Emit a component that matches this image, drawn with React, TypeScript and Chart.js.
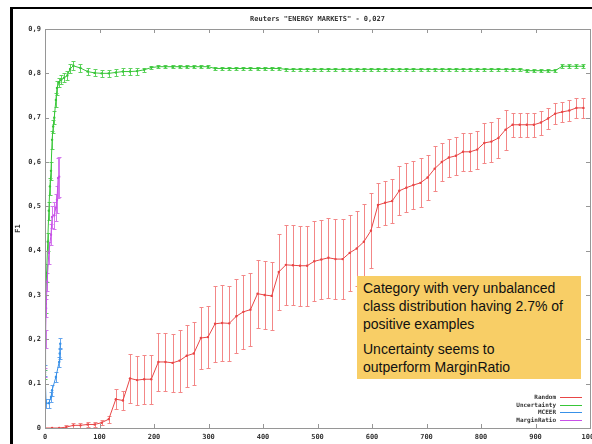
import React, { useEffect, useRef } from 'react';
import { Chart, registerables } from 'chart.js';

Chart.register(...registerables);

const TITLE = 'Reuters "ENERGY MARKETS" - 0,027';
const Y_LABEL = 'F1';
const SERIES_NAMES = ['Random', 'Uncertainty', 'MCEER', 'MarginRatio'];

const X_TICK_VALUES = [0, 100, 200, 300, 400, 500, 600, 700, 800, 900, 1000];
const X_TICK_LABELS = ['0', '100', '200', '300', '400', '500', '600', '700', '800', '900', '1000'];
const Y_TICK_VALUES = [0, 0.1, 0.2, 0.3, 0.4, 0.5, 0.6, 0.7, 0.8, 0.9];
const Y_TICK_LABELS = ['0', '0,1', '0,2', '0,3', '0,4', '0,5', '0,6', '0,7', '0,8', '0,9'];

// Random
const randomX = [0, 13, 26, 39, 52, 65, 78, 91, 104, 117, 130, 143, 156, 169, 182, 195, 208, 221, 234, 247, 260, 273, 286, 299, 312, 325, 338, 351, 364, 377, 390, 403, 416, 429, 442, 455, 468, 481, 494, 507, 520, 533, 546, 559, 572, 585, 598, 611, 624, 637, 650, 663, 676, 689, 702, 715, 728, 741, 754, 767, 780, 793, 806, 819, 832, 845, 858, 871, 884, 897, 910, 923, 936, 949, 962, 975, 988];
const randomY = [0, 0, 0, 0.002, 0.006, 0.006, 0.008, 0.008, 0.012, 0.02, 0.065, 0.062, 0.112, 0.108, 0.11, 0.11, 0.149, 0.149, 0.147, 0.152, 0.163, 0.168, 0.203, 0.205, 0.235, 0.237, 0.236, 0.252, 0.262, 0.267, 0.303, 0.3, 0.298, 0.352, 0.368, 0.367, 0.366, 0.366, 0.376, 0.38, 0.384, 0.381, 0.381, 0.395, 0.405, 0.42, 0.445, 0.503, 0.508, 0.512, 0.535, 0.542, 0.548, 0.553, 0.565, 0.585, 0.6, 0.61, 0.614, 0.623, 0.623, 0.628, 0.643, 0.646, 0.654, 0.673, 0.684, 0.684, 0.684, 0.684, 0.689, 0.698, 0.709, 0.713, 0.716, 0.722, 0.722];
const randomErr = [0, 0, 0, 0.005, 0.005, 0.005, 0.005, 0.005, 0.005, 0.008, 0.022, 0.022, 0.055, 0.055, 0.055, 0.055, 0.065, 0.065, 0.065, 0.07, 0.07, 0.07, 0.07, 0.07, 0.085, 0.085, 0.085, 0.083, 0.083, 0.083, 0.077, 0.077, 0.077, 0.085, 0.09, 0.09, 0.09, 0.09, 0.09, 0.09, 0.09, 0.09, 0.09, 0.085, 0.085, 0.085, 0.085, 0.05, 0.05, 0.05, 0.055, 0.055, 0.055, 0.055, 0.05, 0.05, 0.043, 0.043, 0.043, 0.043, 0.043, 0.043, 0.045, 0.045, 0.045, 0.045, 0.027, 0.027, 0.027, 0.027, 0.027, 0.023, 0.023, 0.023, 0.023, 0.023, 0.023];

// Uncertainty
const uncertaintyX = [0, 1, 3, 5, 7, 9, 11, 13, 15, 17, 20, 22, 26, 30, 35, 41, 46, 52, 65, 78, 91, 104, 117, 130, 143, 156, 169, 182, 195, 208, 221, 234, 247, 260, 273, 286, 299, 312, 325, 338, 351, 364, 377, 390, 403, 416, 429, 442, 455, 468, 481, 494, 507, 520, 533, 546, 559, 572, 585, 598, 611, 624, 637, 650, 663, 676, 689, 702, 715, 728, 741, 754, 767, 780, 793, 806, 819, 832, 845, 858, 871, 884, 897, 910, 923, 936, 949, 962, 975, 988];
const uncertaintyY = [0.12, 0.28, 0.35, 0.42, 0.49, 0.545, 0.58, 0.65, 0.68, 0.7, 0.74, 0.767, 0.78, 0.786, 0.79, 0.795, 0.81, 0.817, 0.812, 0.804, 0.801, 0.8, 0.8, 0.802, 0.804, 0.804, 0.805, 0.808, 0.813, 0.815, 0.815, 0.815, 0.815, 0.815, 0.815, 0.815, 0.815, 0.811, 0.811, 0.811, 0.811, 0.811, 0.811, 0.811, 0.811, 0.811, 0.811, 0.809, 0.809, 0.809, 0.809, 0.809, 0.809, 0.809, 0.809, 0.809, 0.809, 0.809, 0.809, 0.809, 0.809, 0.809, 0.809, 0.809, 0.809, 0.809, 0.809, 0.809, 0.809, 0.809, 0.809, 0.809, 0.809, 0.809, 0.809, 0.809, 0.809, 0.809, 0.809, 0.809, 0.809, 0.806, 0.806, 0.806, 0.806, 0.806, 0.816, 0.816, 0.816, 0.816];
const uncertaintyErr = [0.01, 0.02, 0.02, 0.02, 0.02, 0.02, 0.02, 0.02, 0.015, 0.015, 0.015, 0.015, 0.01, 0.01, 0.01, 0.01, 0.01, 0.01, 0.01, 0.008, 0.008, 0.008, 0.008, 0.008, 0.008, 0.008, 0.008, 0.004, 0.004, 0.004, 0.004, 0.004, 0.004, 0.004, 0.004, 0.004, 0.004, 0.004, 0.004, 0.004, 0.004, 0.004, 0.004, 0.004, 0.004, 0.004, 0.004, 0.004, 0.004, 0.004, 0.004, 0.004, 0.004, 0.004, 0.004, 0.004, 0.004, 0.004, 0.004, 0.004, 0.004, 0.004, 0.004, 0.004, 0.004, 0.004, 0.004, 0.004, 0.004, 0.004, 0.004, 0.004, 0.004, 0.004, 0.004, 0.004, 0.004, 0.004, 0.004, 0.004, 0.004, 0.004, 0.004, 0.004, 0.004, 0.004, 0.004, 0.004, 0.004, 0.004];

// MCEER
const mceerX = [0, 2, 7, 11, 13, 20, 26, 27, 28];
const mceerY = [0.13, 0.056, 0.056, 0.07, 0.085, 0.115, 0.149, 0.168, 0.19];
const mceerErr = [0.012, 0.01, 0.01, 0.012, 0.012, 0.012, 0.012, 0.012, 0.012];

// MarginRatio
const marginX = [0, 1, 2, 4, 7, 11, 13, 17, 20, 22, 24, 26];
const marginY = [0.125, 0.2, 0.27, 0.33, 0.395, 0.436, 0.476, 0.48, 0.497, 0.515, 0.564, 0.567];
const marginErr = [0.01, 0.02, 0.02, 0.02, 0.024, 0.024, 0.024, 0.03, 0.03, 0.03, 0.045, 0.045];

const LINE_COLORS = ['rgb(232,70,70)', 'rgb(56,198,56)', 'rgb(56,145,232)', 'rgb(200,80,232)'];
const ERR_COLORS = ['rgb(243,135,135)', 'rgb(95,210,95)', 'rgb(100,165,238)', 'rgb(212,120,238)'];

const MONO = '"DejaVu Sans Mono", monospace';

const toPoints = (xs: number[], ys: number[]) => xs.map((x, i) => ({ x, y: ys[i] }));

const errorBarPlugin = {
  id: 'errorBars',
  beforeDatasetsDraw(chart: any) {
    const { ctx, chartArea, scales } = chart;
    const xs = scales.x;
    const ys = scales.y;
    ctx.save();
    ctx.beginPath();
    ctx.rect(chartArea.left, chartArea.top, chartArea.right - chartArea.left, chartArea.bottom - chartArea.top);
    ctx.clip();
    ctx.lineWidth = 1;
    chart.data.datasets.forEach((ds: any) => {
      ctx.strokeStyle = ds.errColor;
      ctx.beginPath();
      ds.data.forEach((p: any, i: number) => {
        const e = ds.errors[i];
        if (!e) return;
        const px = Math.round(xs.getPixelForValue(p.x)) + 0.5;
        const top = Math.round(ys.getPixelForValue(p.y + e)) + 0.5;
        const bot = Math.round(ys.getPixelForValue(p.y - e)) + 0.5;
        ctx.moveTo(px, top);
        ctx.lineTo(px, bot);
        ctx.moveTo(px - 2, top);
        ctx.lineTo(px + 2, top);
        ctx.moveTo(px - 2, bot);
        ctx.lineTo(px + 2, bot);
      });
      ctx.stroke();
    });
    ctx.restore();
  },
};

const framePlugin = {
  id: 'gnuFrame',
  afterDraw(chart: any) {
    const { ctx, chartArea, scales } = chart;
    const { left, right, top, bottom } = chartArea;
    ctx.save();
    ctx.strokeStyle = 'rgb(150,150,150)';
    ctx.lineWidth = 1;
    ctx.strokeRect(Math.round(left) + 0.5, Math.round(top) + 0.5, Math.round(right - left), Math.round(bottom - top));
    ctx.beginPath();
    scales.x.ticks.forEach((t: any) => {
      const px = Math.round(scales.x.getPixelForValue(t.value)) + 0.5;
      ctx.moveTo(px, bottom);
      ctx.lineTo(px, bottom - 4);
      ctx.moveTo(px, top);
      ctx.lineTo(px, top + 4);
    });
    scales.y.ticks.forEach((t: any) => {
      const py = Math.round(scales.y.getPixelForValue(t.value)) + 0.5;
      ctx.moveTo(left, py);
      ctx.lineTo(left + 4, py);
      ctx.moveTo(right, py);
      ctx.lineTo(right - 4, py);
    });
    ctx.stroke();

    // gnuplot-style key
    ctx.font = `bold 6px ${MONO}`;
    ctx.textAlign = 'right';
    ctx.textBaseline = 'middle';
    chart.data.datasets.forEach((ds: any, i: number) => {
      const y = Math.round(bottom - 31 + i * 7.6) + 0.5;
      ctx.fillStyle = '#333';
      ctx.fillText(ds.label, right - 34, y);
      ctx.strokeStyle = ds.borderColor;
      ctx.beginPath();
      ctx.moveTo(right - 30, y);
      ctx.lineTo(right - 8, y);
      ctx.stroke();
    });
    ctx.restore();
  },
};

export default function App() {
  const canvasRef = useRef<HTMLCanvasElement | null>(null);

  useEffect(() => {
    const canvas = canvasRef.current;
    if (!canvas) return;
    const seriesX = [randomX, uncertaintyX, mceerX, marginX];
    const seriesY = [randomY, uncertaintyY, mceerY, marginY];
    const seriesErr = [randomErr, uncertaintyErr, mceerErr, marginErr];
    const datasets: any[] = SERIES_NAMES.map((name, i) => ({
      label: name,
      data: toPoints(seriesX[i], seriesY[i]),
      errors: seriesErr[i],
      errColor: ERR_COLORS[i],
      borderColor: LINE_COLORS[i],
      backgroundColor: LINE_COLORS[i],
      borderWidth: 1,
      pointRadius: 1.2,
      pointBorderWidth: 0,
      pointHoverRadius: 0,
      tension: 0,
      fill: false,
      order: 4 - i,
    }));

    const chart = new Chart(canvas, {
      type: 'line',
      data: { datasets },
      plugins: [errorBarPlugin, framePlugin],
      options: {
        animation: false,
        responsive: false,
        maintainAspectRatio: false,
        events: [],
        layout: { padding: { left: 0, right: 30, top: 0, bottom: 0 } },
        plugins: {
          legend: { display: false },
          tooltip: { enabled: false },
          title: {
            display: true,
            text: TITLE,
            fullSize: false,
            color: '#333',
            font: { family: MONO, size: 7, weight: 'bold', lineHeight: 1.2 },
            padding: { top: 15, bottom: 5.6 },
          },
        },
        scales: {
          x: {
            type: 'linear',
            min: 0,
            max: 1000,
            afterBuildTicks: (s: any) => {
              s.ticks = X_TICK_VALUES.map((v) => ({ value: v }));
            },
            afterFit: (s: any) => {
              s.height = 16;
            },
            grid: { display: false, drawTicks: false },
            border: { display: false },
            ticks: {
              autoSkip: false,
              maxRotation: 0,
              padding: 5,
              color: '#333',
              font: { family: MONO, size: 7, weight: 'bold' },
              callback: (_v: any, i: number) => X_TICK_LABELS[i],
            },
          },
          y: {
            type: 'linear',
            min: 0,
            max: 0.9,
            afterBuildTicks: (s: any) => {
              s.ticks = Y_TICK_VALUES.map((v) => ({ value: v }));
            },
            afterFit: (s: any) => {
              s.width = 45;
            },
            grid: { display: false, drawTicks: false },
            border: { display: false },
            title: {
              display: true,
              text: Y_LABEL,
              color: '#333',
              font: { family: MONO, size: 7, weight: 'bold', lineHeight: 1.2 },
              padding: { top: 13.8, bottom: 0 },
            },
            ticks: {
              autoSkip: false,
              padding: 4,
              color: '#333',
              font: { family: MONO, size: 7, weight: 'bold' },
              callback: (_v: any, i: number) => Y_TICK_LABELS[i],
            },
          },
        },
      } as any,
    });
    return () => chart.destroy();
  }, []);

  return (
    <div style={{ position: 'fixed', left: 0, top: 0, width: 592, height: 444, overflow: 'hidden', background: '#fff' }}>
      <canvas ref={canvasRef} width={620} height={444} style={{ position: 'absolute', left: 0, top: 0, width: 620, height: 444 }} />
      <div style={{ position: 'absolute', left: 10, top: 7, right: 0, bottom: 0, borderLeft: '3px solid #000', borderTop: '2px solid #000', pointerEvents: 'none' }} />
      <div
        style={{
          position: 'absolute',
          left: 357,
          top: 276,
          width: 224,
          height: 103,
          boxSizing: 'border-box',
          padding: '3px 6px',
          background: '#F8CE66',
          color: '#111',
          fontFamily: '"Liberation Sans", Arial, sans-serif',
          fontSize: 14,
          lineHeight: '18px',
          whiteSpace: 'nowrap',
        }}
      >
        <p style={{ margin: 0 }}>
          Category with very unbalanced<br />class distribution having 2.7% of<br />positive examples
        </p>
        <p style={{ margin: '7px 0 0 0' }}>
          Uncertainty seems to<br />outperform MarginRatio
        </p>
      </div>
    </div>
  );
}
